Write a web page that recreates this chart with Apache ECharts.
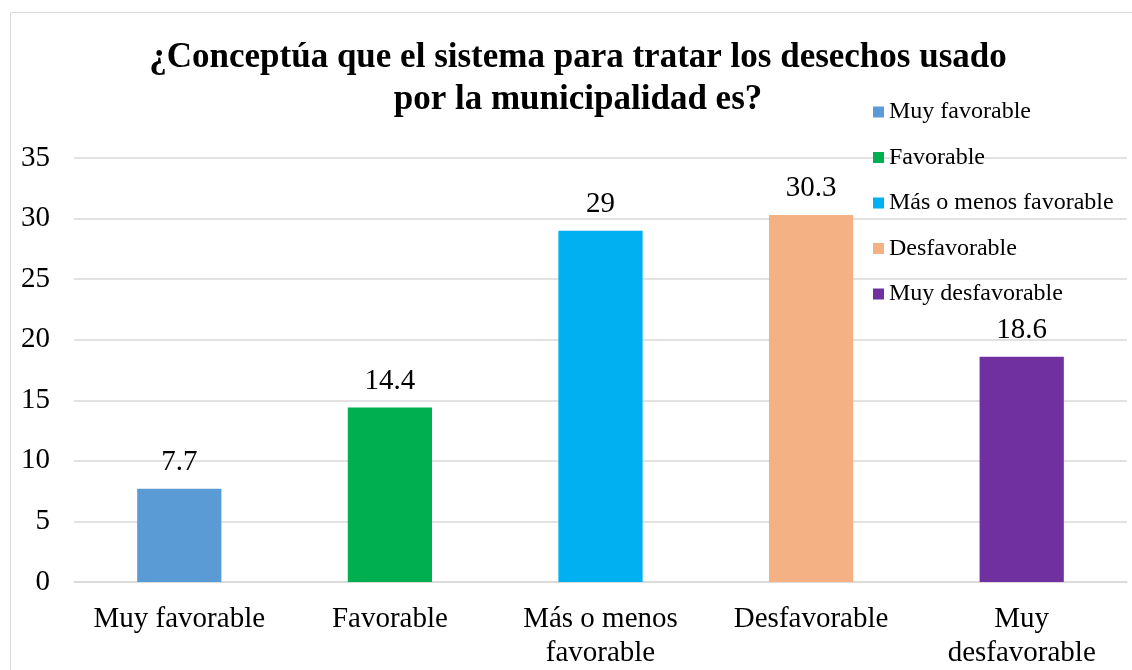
<!DOCTYPE html>
<html><head><meta charset="utf-8">
<script src="https://cdn.jsdelivr.net/npm/echarts@6/dist/echarts.min.js"></script>
<style>html,body{margin:0;padding:0;background:#fff}#c{width:1132px;height:670px}</style>
</head><body><div id="c"></div>
<script>
const categories = ['Muy favorable', 'Favorable', 'Más o menos favorable', 'Desfavorable', 'Muy desfavorable'];
const axisLabels = ['Muy favorable', 'Favorable', 'Más o menos\nfavorable', 'Desfavorable', 'Muy\ndesfavorable'];
const values = [7.7, 14.4, 29, 30.3, 18.6];
const colors = ['#5B9BD5', '#00B050', '#00B0F0', '#F4B183', '#7030A0'];
const titleText = '¿Conceptúa que el sistema para tratar los desechos usado\npor la municipalidad es?';
const font = '"Liberation Serif", "Times New Roman", serif';

const series = categories.map((name, i) => ({
  name: name,
  type: 'bar',
  stack: 'all',
  barWidth: '40%',
  itemStyle: { color: colors[i] },
  label: { show: true, position: 'top', distance: 12, fontFamily: font, fontSize: 29, color: '#000' },
  data: categories.map((c, j) => (j === i ? values[i] : '-'))
}));

const chart = echarts.init(document.getElementById('c'));
chart.setOption({
  animation: false,
  textStyle: { fontFamily: font },
  graphic: [{ type: 'rect', shape: { x: 10.5, y: 12.5, width: 1200, height: 800 }, style: { fill: 'none', stroke: '#d9d9d9', lineWidth: 1 }, z: -1 }],
  title: {
    text: titleText, left: 573, textAlign: 'center', top: 32,
    textStyle: { fontFamily: font, fontSize: 35, fontWeight: 'bold', color: '#000', lineHeight: 42 }
  },
  legend: {
    orient: 'vertical', left: 868, top: 95, itemWidth: 11, itemHeight: 11, itemGap: 21.5,
    icon: 'rect', data: categories,
    textStyle: { fontFamily: font, fontSize: 24, color: '#000' }
  },
  grid: { left: 74, right: 5, top: 158, bottom: 87, containLabel: false },
  xAxis: {
    type: 'category', data: axisLabels,
    axisLine: { lineStyle: { color: '#d9d9d9', width: 1.5 } },
    axisTick: { show: false },
    axisLabel: { color: '#000', fontFamily: font, fontSize: 29, margin: 20, lineHeight: 34, interval: 0 }
  },
  yAxis: {
    type: 'value', min: 0, max: 35, interval: 5,
    axisLine: { show: false }, axisTick: { show: false },
    splitLine: { lineStyle: { color: '#d9d9d9', width: 1.5 } },
    axisLabel: { color: '#000', fontFamily: font, fontSize: 29, margin: 24 }
  },
  series: series
});
</script></body></html>
